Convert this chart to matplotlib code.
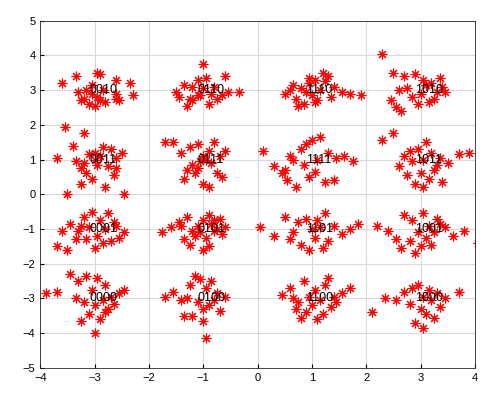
import matplotlib
matplotlib.use("Agg")
import matplotlib.pyplot as plt

labels = ["0010","0110","1110","1010","0011","0111","1111","1011",
          "0001","0101","1101","1001","0000","0100","1100","1000"]
centers_x = [-3,-1,1,3,-3,-1,1,3,-3,-1,1,3,-3,-1,1,3]
centers_y = [3,3,3,3,1,1,1,1,-1,-1,-1,-1,-3,-3,-3,-3]

pts_x = [
 -3.6,-3.35,-2.95,-2.9,-2.6,-2.55,-3.05,-2.85,-2.6,-2.35,-2.3,-3.1,-3.2,-3.0,-2.9,-3.25,-3.3,-2.8,-3.05,-2.95,-2.6,-3.15,
 -1.0,-1.1,-0.95,-0.6,-1.35,-1.2,-1.0,-1.5,-1.45,-1.25,-1.1,-0.85,-0.8,-0.65,-0.55,-0.35,-0.9,-1.3,-1.2,-0.75,-1.05,
 0.6,0.8,0.95,1.05,1.2,1.3,0.5,0.7,0.9,1.0,1.1,1.4,1.55,1.7,1.9,0.85,1.15,0.65,1.25,0.75,1.35,0.95,1.05,
 2.3,2.5,2.7,2.9,3.05,3.2,3.35,3.4,2.6,2.75,3.0,3.1,3.3,2.45,2.85,3.15,3.25,2.55,2.95,3.45,2.65,
 -3.7,-3.55,-3.4,-3.2,-3.1,-3.0,-2.85,-2.7,-2.6,-2.5,-3.35,-3.25,-2.95,-2.75,-2.65,-3.15,-3.05,-3.25,-2.8,-3.5,-2.45,-3.0,-2.9,-3.2,-2.6,
 -1.7,-1.55,-1.4,-1.25,-1.1,-1.0,-0.9,-0.8,-0.7,-0.6,-1.3,-1.2,-1.05,-0.95,-0.85,-1.15,-0.75,-0.65,-1.35,-1.0,-0.9,-1.1,
 0.1,0.3,0.45,0.55,0.65,0.8,0.9,1.0,1.15,1.3,1.45,1.6,1.75,0.6,0.85,1.1,1.25,0.7,0.95,1.4,0.5,1.05,
 2.3,2.5,2.7,2.85,2.95,3.1,3.2,3.35,3.5,3.7,3.9,2.75,3.0,3.15,3.25,2.9,3.05,3.4,2.6,3.3,3.05,2.8,
 -3.7,-3.6,-3.45,-3.35,-3.2,-3.05,-2.9,-2.75,-2.6,-2.45,-3.3,-3.15,-2.95,-2.8,-2.7,-3.5,-3.0,-2.85,-3.25,-2.55,-3.1,-2.65,
 -1.75,-1.6,-1.45,-1.3,-1.2,-1.1,-1.0,-0.9,-0.8,-0.7,-0.6,-1.35,-1.15,-1.05,-0.95,-0.85,-0.75,-1.25,-0.65,-1.0,-0.9,-1.4,-0.8,
 0.05,0.3,0.5,0.6,0.75,0.9,1.0,1.1,1.25,1.4,1.55,1.7,1.85,0.8,1.05,1.2,0.65,0.95,1.3,1.15,
 2.2,2.4,2.55,2.7,2.85,2.95,3.05,3.15,3.3,3.45,3.6,3.8,4.05,2.8,3.0,3.1,3.25,2.65,2.9,3.2,3.35,
 -3.9,-3.7,-3.45,-3.3,-3.15,-3.05,-2.95,-2.8,-2.7,-2.55,-2.45,-3.35,-3.2,-3.0,-2.85,-2.75,-3.1,-2.9,-3.25,-2.65,-3.0,-2.8,
 -1.7,-1.55,-1.4,-1.25,-1.15,-1.05,-0.95,-0.85,-0.75,-0.6,-1.3,-1.1,-1.0,-0.9,-0.8,-1.2,-0.7,-1.0,-0.95,-1.35,
 0.45,0.6,0.75,0.85,0.95,1.05,1.15,1.25,1.4,1.55,1.7,0.7,0.9,1.0,1.2,1.35,0.8,1.1,1.45,0.65,1.3,
 2.1,2.35,2.55,2.7,2.85,2.95,3.05,3.15,3.3,3.45,3.7,2.8,3.0,3.1,3.2,3.25,2.9,3.35,3.05,
]
pts_y = [
 3.2,3.4,3.5,3.45,3.3,2.7,3.15,3.0,2.9,3.2,2.85,2.6,2.75,2.55,2.7,2.7,2.95,2.65,2.9,2.8,2.75,3.0,
 3.75,3.3,3.35,3.4,3.15,3.1,3.05,2.95,2.8,2.75,2.85,2.9,3.1,2.85,2.95,2.95,2.6,2.55,2.7,2.75,2.85,
 3.0,3.05,3.2,3.3,3.5,3.4,2.9,2.75,2.95,2.85,2.7,3.1,2.95,2.9,2.85,2.6,3.0,3.15,3.25,2.55,2.8,3.35,2.65,
 4.05,3.5,3.4,3.45,3.3,3.2,3.35,3.1,3.0,3.05,2.9,3.15,2.95,2.7,2.8,2.65,2.75,2.5,2.6,2.95,2.4,
 1.05,1.95,1.4,1.75,1.15,1.0,1.35,1.3,1.05,1.2,0.95,0.75,0.85,0.8,0.55,0.6,0.45,0.3,0.2,0.0,0.0,1.2,1.1,0.9,0.75,
 1.5,1.5,1.2,1.35,1.45,1.1,1.25,1.5,1.1,1.25,0.7,0.85,0.95,1.0,0.9,0.6,0.6,0.5,0.45,0.3,0.2,0.75,
 1.25,0.8,0.6,0.4,1.0,1.3,1.45,1.55,1.65,1.2,1.05,1.1,0.95,1.1,0.85,1.0,0.35,0.2,0.5,0.4,0.7,0.65,
 1.55,1.75,1.1,0.95,1.3,1.5,1.2,1.05,0.9,1.15,1.2,0.55,0.6,0.45,0.7,0.3,0.2,0.35,0.8,0.85,1.0,1.25,
 -1.5,-1.05,-0.85,-1.3,-0.65,-0.5,-0.75,-0.55,-0.9,-1.1,-1.05,-1.3,-1.2,-1.0,-1.35,-1.6,-1.55,-1.4,-0.9,-1.25,-0.95,-0.8,
 -1.1,-0.95,-0.8,-0.65,-1.05,-0.9,-0.75,-0.6,-1.05,-0.7,-0.95,-1.3,-1.2,-1.1,-1.25,-0.85,-1.0,-1.45,-1.15,-1.6,-1.5,-0.9,-0.75,
 -0.95,-1.2,-0.65,-1.3,-0.8,-0.7,-1.0,-0.75,-0.55,-0.9,-1.15,-1.0,-0.85,-1.45,-1.25,-1.55,-1.1,-1.6,-1.35,-0.95,
 -0.9,-1.05,-1.3,-0.6,-0.75,-1.1,-0.55,-0.9,-0.7,-0.95,-1.2,-1.05,-1.4,-1.35,-1.5,-1.25,-1.1,-1.55,-1.7,-1.45,-0.85,
 -2.85,-2.8,-2.3,-2.5,-2.35,-2.75,-2.4,-2.6,-2.95,-2.85,-2.75,-3.0,-3.1,-3.2,-3.05,-3.3,-3.45,-3.6,-3.65,-3.15,-4.0,-3.4,
 -2.95,-2.8,-3.05,-2.6,-2.35,-2.45,-2.7,-2.5,-2.85,-2.95,-3.0,-3.1,-3.3,-3.2,-3.05,-3.5,-3.35,-3.65,-4.15,-3.5,
 -2.9,-2.7,-3.1,-2.5,-2.95,-2.75,-3.05,-2.6,-2.95,-2.85,-2.7,-3.3,-3.4,-3.2,-3.45,-3.25,-3.55,-3.6,-3.1,-3.0,-2.4,
 -3.4,-3.0,-3.05,-2.8,-2.7,-2.6,-2.95,-2.75,-2.85,-3.0,-2.8,-3.15,-3.3,-3.45,-3.05,-3.55,-3.7,-3.25,-3.85,
]

fig = plt.figure(figsize=(5.03, 4.03), dpi=100)
ax = fig.add_axes([0.08, 0.087, 0.864, 0.862])
ax.plot(pts_x, pts_y, linestyle='none', marker=(8, 2, 0), color='red',
        markersize=7, markeredgewidth=0.8, zorder=2)
for lab, cx, cy in zip(labels, centers_x, centers_y):
    ax.text(cx - 0.1, cy, lab, fontsize=9, family='Liberation Sans',
            va='center', ha='left', zorder=3)
ax.set_xlim(-4, 4)
ax.set_ylim(-5, 5)
ax.set_xticks(range(-4, 5))
ax.set_yticks(range(-5, 6))
ax.grid(True, color='#d9d9d9', linewidth=0.8, zorder=0)
ax.set_axisbelow(True)
ax.tick_params(labelsize=8, direction='in', length=3)
for lbl in ax.get_xticklabels() + ax.get_yticklabels():
    lbl.set_family('Liberation Sans')
for s in ax.spines.values():
    s.set_color('#262626'); s.set_linewidth(0.6)
fig.savefig('out.png', dpi=100)
